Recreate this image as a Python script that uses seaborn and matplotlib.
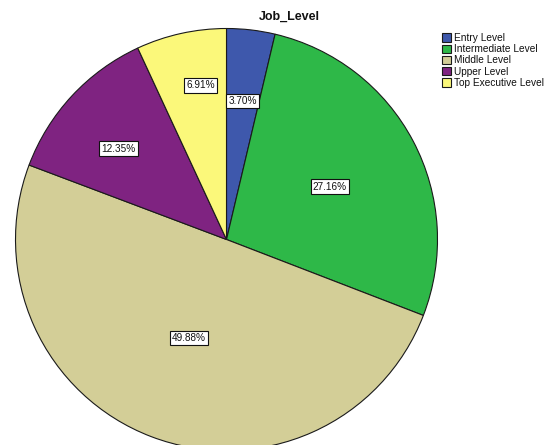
import numpy as np
import matplotlib
matplotlib.use("Agg")
import matplotlib.pyplot as plt
import seaborn as sns

# Job level distribution (percent of respondents, N = 405)
categories = ["Entry Level", "Intermediate Level", "Middle Level",
              "Upper Level", "Top Executive Level"]
percents = [3.70, 27.16, 49.88, 12.35, 6.91]
colors = ["#3E58AC", "#2EB848", "#D3CE97", "#7F2381", "#FBF87A"]
title = "Job_Level"

sns.set_theme(style="white")
plt.rcParams["font.family"] = ["Liberation Sans", "DejaVu Sans"]

W, H = 553, 445
fig = plt.figure(figsize=(W / 100, H / 100), dpi=100)
fig.patch.set_facecolor("white")

# pie geometry in pixels (centre and radius)
cx, cy, R = 226.5, 239.5, 211.0
ax = fig.add_axes([(cx - R) / W, (H - cy - R) / H, 2 * R / W, 2 * R / H])
ax.set_xlim(-1, 1)
ax.set_ylim(-1, 1)
ax.set_aspect("equal")
ax.axis("off")

wedges, _ = ax.pie(
    percents, colors=colors, startangle=90, counterclock=False,
    radius=1.0, center=(0, 0),
    wedgeprops=dict(edgecolor="#1a1a1a", linewidth=0.8),
)
ax.set_xlim(-1, 1)
ax.set_ylim(-1, 1)

# boxed percentage labels inside each slice
label_radius = [0.66, 0.55, 0.50, 0.67, 0.74]
label_shift = [0.0, -0.7, 0.2, 2.9, -3.0]
start = 90.0
for pct, r, sh in zip(percents, label_radius, label_shift):
    sweep = pct / 100.0 * 360.0
    mid = np.deg2rad(start - sweep / 2 + sh)
    start -= sweep
    ax.text(r * np.cos(mid), r * np.sin(mid), f"{pct:.2f}%",
            ha="center", va="center", fontsize=7.2, color="#111111",
            bbox=dict(boxstyle="square,pad=0.22", facecolor="white",
                      edgecolor="#111111", linewidth=0.8))

fig.text(289 / W, 1 - 17 / H, title, ha="center", va="center",
         fontsize=9, fontweight="bold", color="#111111")

leg = fig.legend(wedges, categories, loc="upper left",
                 bbox_to_anchor=(439.5 / W, 1 - 31 / H),
                 frameon=False, fontsize=7.3, handlelength=0.9,
                 handleheight=0.9, handletextpad=0.3, labelspacing=0.12,
                 borderpad=0.2, borderaxespad=0)
for t in leg.get_texts():
    t.set_color("#111111")

fig.savefig("out.png", dpi=100, facecolor="white")
